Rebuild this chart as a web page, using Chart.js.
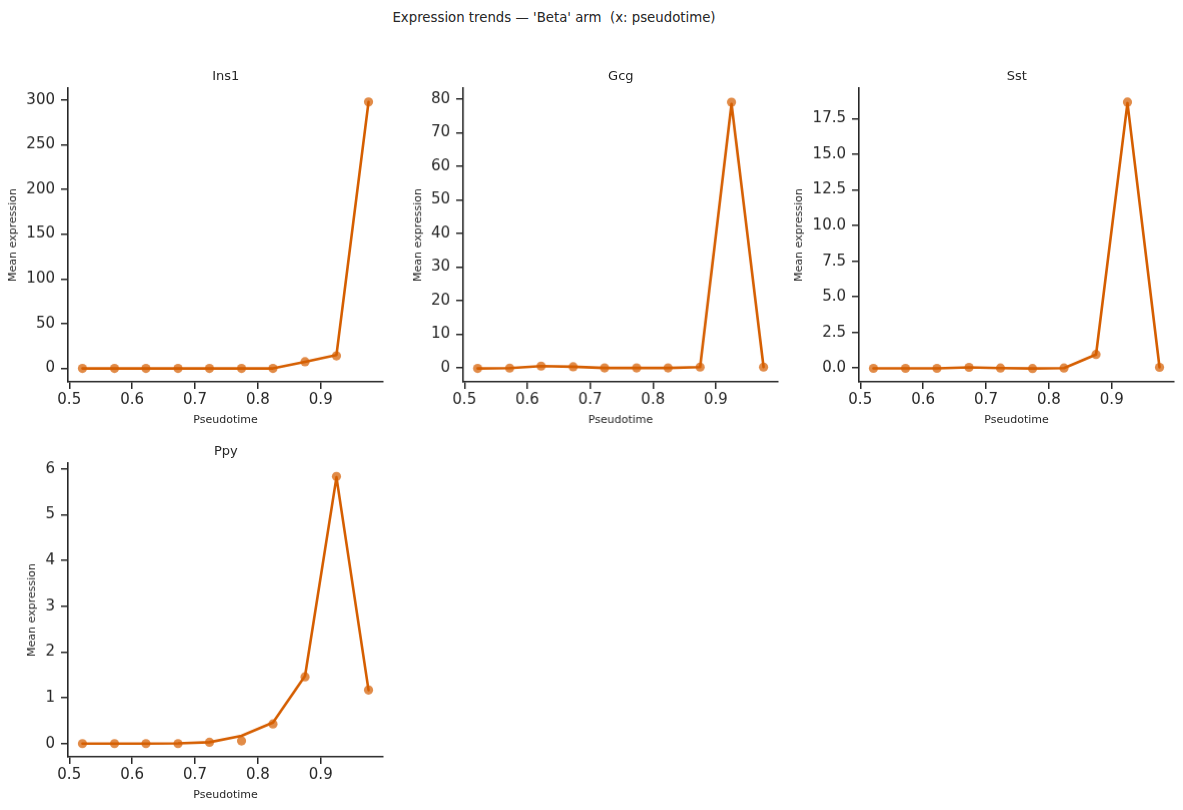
<!DOCTYPE html>
<html>
<head>
<meta charset="utf-8">
<script src="https://cdn.jsdelivr.net/npm/chart.js@4.4.1/dist/chart.umd.min.js"></script>
<style>
  body { margin: 0; background: #fff; overflow: hidden; font-family: "DejaVu Sans", sans-serif; color: #262626; }
  #wrap { position: relative; width: 1183px; height: 810px; }
  canvas { position: absolute; }
  .ttl { position: absolute; transform: translate(-50%, -50%); white-space: pre; }
</style>
</head>
<body>
<div id="wrap">
  <div class="ttl" style="left:554px; top:17px; font-size:13.3px;">Expression trends — 'Beta' arm  (x: pseudotime)</div>
</div>
<script>
// bin centres along pseudotime
var pseudotime = [0.521, 0.572, 0.622, 0.673, 0.723, 0.774, 0.824, 0.875, 0.925, 0.976];

// binned means (dots) and trend line per gene
var ins1Points = [0, 0, 0, 0, 0, 0, 0, 7.5, 14, 297.5];
var ins1Line   = [0, 0, 0, 0, 0, 0, 0, 7.5, 15, 297.5];
var gcgPoints  = [-0.2, -0.1, 0.5, 0.3, -0.05, -0.05, -0.05, 0.2, 79, 0.2];
var gcgLine    = [-0.2, -0.1, 0.5, 0.3, -0.05, -0.05, -0.05, 0.2, 78.5, 0.2];
var sstPoints  = [-0.02, -0.02, -0.02, 0.05, 0, -0.03, 0, 0.95, 18.67, 0.05];
var sstLine    = [-0.02, -0.02, -0.02, 0.05, 0, -0.03, 0, 0.95, 18.6, 0.05];
var ppyPoints  = [0, 0, 0, 0, 0.03, 0.06, 0.43, 1.46, 5.84, 1.17];
var ppyLine    = [0, 0, 0, 0.005, 0.03, 0.17, 0.46, 1.48, 5.82, 1.17];

var xTicks = [0.5, 0.6, 0.7, 0.8, 0.9];
var ins1Ticks = [0, 50, 100, 150, 200, 250, 300];
var gcgTicks = [0, 10, 20, 30, 40, 50, 60, 70, 80];
var sstTicks = [0, 2.5, 5, 7.5, 10, 12.5, 15, 17.5];
var ppyTicks = [0, 1, 2, 3, 4, 5, 6];

var dark = '#262626';
var lineColor = '#d55e00';
var dotColor = 'rgba(213,94,0,0.72)';

var YW = 70, XH = 48, PADTOP = 30, PADRIGHT = 8;

function panel(cfg) {
  var wrap = document.getElementById('wrap');
  var c = document.createElement('canvas');
  var w = cfg.box[2] - cfg.box[0] + YW + PADRIGHT;
  var h = cfg.box[3] - cfg.box[1] + PADTOP + XH;
  c.style.left = (cfg.box[0] - YW) + 'px';
  c.style.top = (cfg.box[1] - PADTOP) + 'px';
  c.style.width = w + 'px';
  c.style.height = h + 'px';
  c.width = w; c.height = h;
  wrap.appendChild(c);

  var t = document.createElement('div');
  t.className = 'ttl';
  t.style.left = ((cfg.box[0] + cfg.box[2]) / 2) + 'px';
  t.style.top = (cfg.box[1] - 13) + 'px';
  t.style.fontSize = '13px';
  t.textContent = cfg.title;
  wrap.appendChild(t);

  var linePts = pseudotime.map(function(x, i) { return {x: x, y: cfg.line[i]}; });
  var dotPts = pseudotime.map(function(x, i) { return {x: x, y: cfg.points[i]}; });

  new Chart(c.getContext('2d'), {
    type: 'scatter',
    data: {
      datasets: [
        { data: linePts, showLine: true, borderColor: lineColor, borderWidth: 2.6,
          borderJoinStyle: 'round', borderCapStyle: 'round',
          pointRadius: 0, fill: false, tension: 0 },
        { data: dotPts, pointRadius: 4.6, pointBackgroundColor: dotColor,
          pointBorderWidth: 0, borderColor: 'transparent' }
      ]
    },
    options: {
      responsive: false,
      animation: false,
      layout: { padding: { top: PADTOP, right: PADRIGHT, left: 0, bottom: 0 } },
      plugins: { legend: { display: false }, tooltip: { enabled: false } },
      scales: {
        x: {
          type: 'linear', min: 0.498, max: 0.999,
          afterFit: function(s) { s.height = XH; },
          afterBuildTicks: function(s) { s.ticks = xTicks.map(function(v) { return {value: v}; }); },
          grid: { drawOnChartArea: false, drawTicks: true, tickLength: 7, color: dark, lineWidth: 1.5 },
          border: { display: true, color: dark, width: 1.6 },
          ticks: { color: dark, padding: 2, maxRotation: 0, font: { family: 'DejaVu Sans', size: 15 },
                   callback: function(v) { return v.toFixed(1); } },
          title: { display: true, text: 'Pseudotime', color: dark,
                   font: { family: 'DejaVu Sans', size: 11 }, padding: { top: 0, bottom: 3 } }
        },
        y: {
          type: 'linear', min: cfg.ymin, max: cfg.ymax,
          afterFit: function(s) { s.width = YW; },
          afterBuildTicks: function(s) { s.ticks = cfg.ticks.map(function(v) { return {value: v}; }); },
          grid: { drawOnChartArea: false, drawTicks: true, tickLength: 7, color: dark, lineWidth: 1.5 },
          border: { display: true, color: dark, width: 1.6 },
          ticks: { color: dark, padding: 6, font: { family: 'DejaVu Sans', size: 15 },
                   callback: function(v) { return cfg.dec ? v.toFixed(cfg.dec) : String(v); } },
          title: { display: true, text: 'Mean expression', color: dark,
                   font: { family: 'DejaVu Sans', size: 11 }, padding: { top: cfg.labPad, bottom: 0 } }
        }
      }
    }
  });
}

// label offsets: desired distance of axis label centre from spine
function labPad(d) { return YW - d - 6.6; }

panel({ title: 'Ins1', box: [68.3, 88, 383.3, 381.5], points: ins1Points, line: ins1Line,
        ymin: -15, ymax: 313, ticks: ins1Ticks, dec: 0, labPad: labPad(54.5) });
panel({ title: 'Gcg', box: [463.3, 88, 778.3, 381.5], points: gcgPoints, line: gcgLine,
        ymin: -4.2, ymax: 83.2, ticks: gcgTicks, dec: 0, labPad: labPad(44.6) });
panel({ title: 'Sst', box: [859.3, 88, 1174.3, 381.5], points: sstPoints, line: sstLine,
        ymin: -0.97, ymax: 19.65, ticks: sstTicks, dec: 1, labPad: labPad(59.8) });
panel({ title: 'Ppy', box: [68.3, 463, 383.3, 756.5], points: ppyPoints, line: ppyLine,
        ymin: -0.29, ymax: 6.13, ticks: ppyTicks, dec: 0, labPad: labPad(35.5) });
</script>
</body>
</html>
